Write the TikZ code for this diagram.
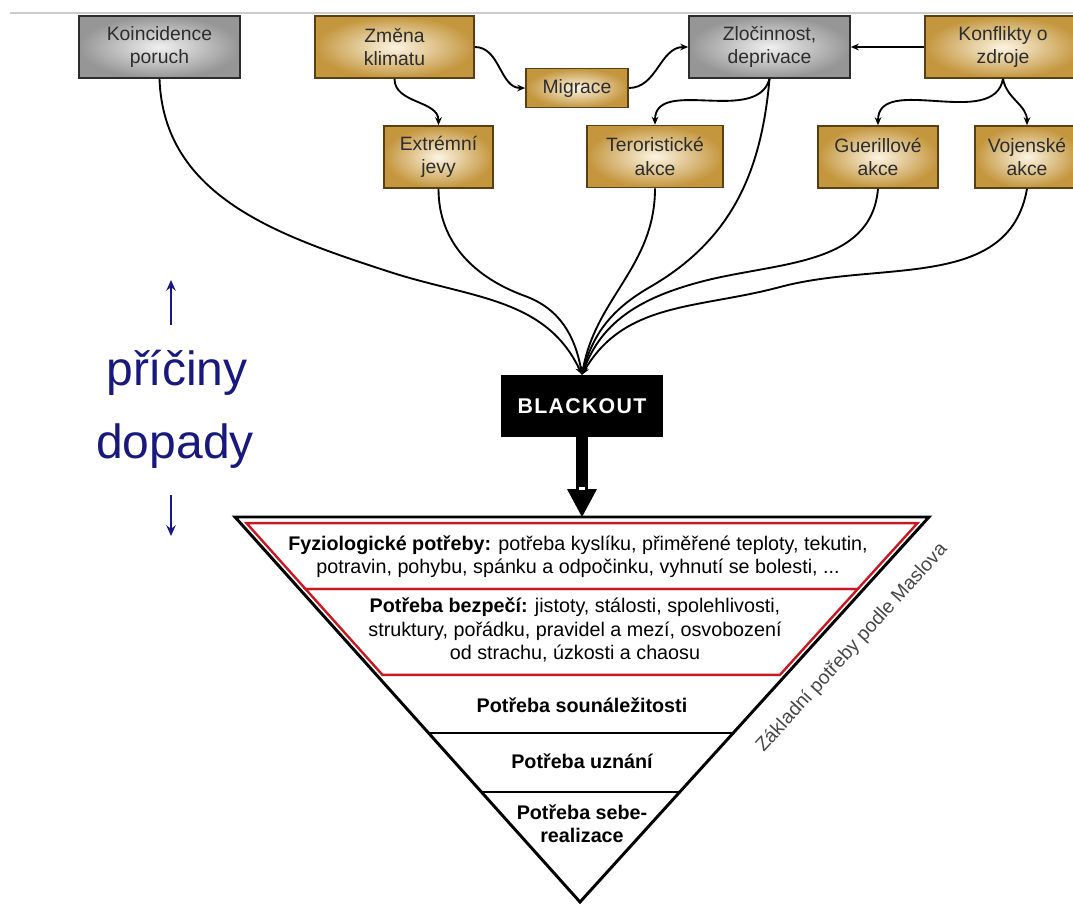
\documentclass[tikz,border=0pt]{standalone}
\usepackage{fontspec}
\setmainfont{Liberation Sans}
\usepackage{tikz}
\usetikzlibrary{arrows.meta, positioning, calc}
\definecolor{mygold}{RGB}{196,150,62}
\definecolor{mycream}{RGB}{252,244,226}
\definecolor{mygray}{RGB}{150,150,150}
\definecolor{mylight}{RGB}{240,240,240}
\definecolor{mybrown}{RGB}{90,62,20}
\definecolor{mydark}{RGB}{45,45,45}
\definecolor{myred}{RGB}{200,25,35}
\definecolor{mynavy}{RGB}{25,25,125}
\definecolor{mytext}{RGB}{70,70,70}
\tikzset{
  box/.style={rectangle, draw, line width=1.2pt, align=center,
    font=\fontsize{14.5}{17.5}\selectfont, text=mydark, minimum height=46.5pt},
  goldbox/.style={box, draw=mybrown, inner color=mycream, outer color=mygold},
  graybox/.style={box, draw=mydark, inner color=mylight, outer color=mygray},
  blackbox/.style={rectangle, fill=black, text=white, minimum width=121.5pt,
    minimum height=46.5pt, font=\fontsize{16}{18}\selectfont\bfseries\addfontfeatures{LetterSpace=6}},
  link/.style={-{Stealth[length=6pt,width=5pt]}, line width=1.4pt},
  feed/.style={-{Stealth[length=6pt,width=5pt]}, line width=1.4pt},
  bigarrow/.style={line width=9pt, -{Triangle[length=21pt,width=22.5pt,line width=0pt]}},
  layer/.style={font=\fontsize{14.8}{17.4}\selectfont, align=center},
  boldlayer/.style={layer, font=\fontsize{14.8}{17.4}\selectfont\bfseries},
  redband/.style={draw=myred, line width=1.8pt, line join=miter},
  bigword/.style={text=mynavy, font=\fontsize{36}{40}\selectfont, anchor=base},
  sidearrow/.style={-{Stealth[length=8pt,width=7pt]}, line width=2pt, color=mynavy}
}

\begin{document}
\begin{tikzpicture}[x=0.75pt, y=0.75pt]
    \useasboundingbox (0,0) rectangle (1073,-904);
    \draw[black!20, line width=1pt] (10,-13) -- (1073,-13);

    \node[graybox, minimum width=120.75pt] (koin) at (159.5,-47) {Koincidence\\poruch};
    \node[goldbox, minimum width=119.25pt] (klima) at (394.5,-47) {Změna\\klimatu};
    \node[graybox, minimum width=120.75pt] (zloc) at (769.5,-47) {Zločinnost,\\deprivace};
    \node[goldbox, minimum width=117pt] (konf) at (1003,-47) {Konflikty o\\zdroje};
    \node[goldbox, minimum width=76.5pt, minimum height=29.25pt] (migr) at (577,-88) {Migrace};
    \node[goldbox, minimum width=81.75pt] (extr) at (438.5,-157) {Extrémní\\jevy};
    \node[goldbox, minimum width=102pt] (ter) at (655,-156.5) {Teroristické\\akce};
    \node[goldbox, minimum width=90pt] (guer) at (878,-157) {Guerillové\\akce};
    \node[goldbox, minimum width=78pt] (voj) at (1027,-157) {Vojenské\\akce};
    \node[blackbox] (bo) at (582,-406) {BLACKOUT};

    \draw[link] (klima.east) to[out=0,in=180] (migr.west);
    \draw[link] (klima.south) to[out=-90,in=90] (extr.north);
    \draw[link] (migr.east) to[out=0,in=180] (zloc.west);
    \draw[link] (konf.west) -- (zloc.east);
    \draw[link] (zloc.south) to[out=-105,in=90] (ter.north);
    \draw[link] (konf.south) to[out=-100,in=90] (guer.north);
    \draw[link] (konf.south) to[out=-80,in=90] (voj.north);

    \draw[feed] (koin.south) to[out=-88,in=162] (390,-272) to[out=-18,in=115] (bo.north);
    \draw[feed] (extr.south) to[out=-90,in=160] (525,-296) to[out=-20,in=100] (bo.north);
    \draw[feed] (ter.south) to[out=-90,in=80] (bo.north);
    \draw[feed] (zloc.south) to[out=-95,in=30] (650,-287) to[out=-150,in=75] (bo.north);
    \draw[feed] (guer.south) to[out=-95,in=15] (700,-282) to[out=-165,in=70] (bo.north);
    \draw[feed] (voj.south) to[out=-100,in=15] (780,-287) to[out=-165,in=60] (bo.north);

    \coordinate (tl) at (235,-517);
    \coordinate (tr) at (929,-517);
    \coordinate (ap) at (580,-902);
    \draw[bigarrow] (bo.south) -- (tl -| bo.south);
    \fill[white] (579,-487) rectangle (585,-490);

    \draw[redband] ($(tl)!0.016!(ap)+(6,0)$) -- ($(tr)!0.016!(ap)+(-6,0)$)
      -- ($(tr)!0.187!(ap)+(-6,0)$) -- ($(tl)!0.187!(ap)+(6,0)$) -- cycle;
    \draw[redband] ($(tl)!0.187!(ap)+(6,0)$) -- ($(tr)!0.187!(ap)+(-6,0)$)
      -- ($(tr)!0.41!(ap)+(-6,0)$) -- ($(tl)!0.41!(ap)+(6,0)$) -- cycle;
    \draw[line width=2.2pt] (tl) -- (tr) -- (ap) -- cycle;
    \draw[line width=1pt] ($(tl)!0.561!(ap)$) -- ($(tr)!0.561!(ap)$);
    \draw[line width=1pt] ($(tl)!0.714!(ap)$) -- ($(tr)!0.714!(ap)$);

    \node[layer] (fyz) at (578,-557) {\textbf{Fyziologické potřeby:} potřeba kyslíku, přiměřené teploty, tekutin,\\potravin, pohybu, spánku a odpočinku, vyhnutí se bolesti, ...};
    \node[layer] (bez) at (575,-630) {\textbf{Potřeba bezpečí:} jistoty, stálosti, spolehlivosti,\\struktury, pořádku, pravidel a mezí, osvobození\\od strachu, úzkosti a chaosu};
    \node[boldlayer] (soun) at (582,-705) {Potřeba sounáležitosti};
    \node[boldlayer] (uzn) at (582,-761) {Potřeba uznání};
    \node[boldlayer] (seb) at (582,-824) {Potřeba sebe-\\realizace};
    \node[rotate=47.8, text=mytext, font=\fontsize{14.5}{16}\selectfont] (masl) at (852,-648) {Základní potřeby podle Maslova};

    \node[bigword] (pric) at (177,-385) {příčiny};
    \node[bigword] (dop) at (175,-458) {dopady};
    \coordinate (upbot) at (171,-325);
    \coordinate (uptop) at (171,-280);
    \coordinate (dntop) at (171,-495);
    \coordinate (dnbot) at (171,-536);
    \draw[sidearrow] (upbot) -- (uptop);
    \draw[sidearrow] (dntop) -- (dnbot);
\end{tikzpicture}
\end{document}
